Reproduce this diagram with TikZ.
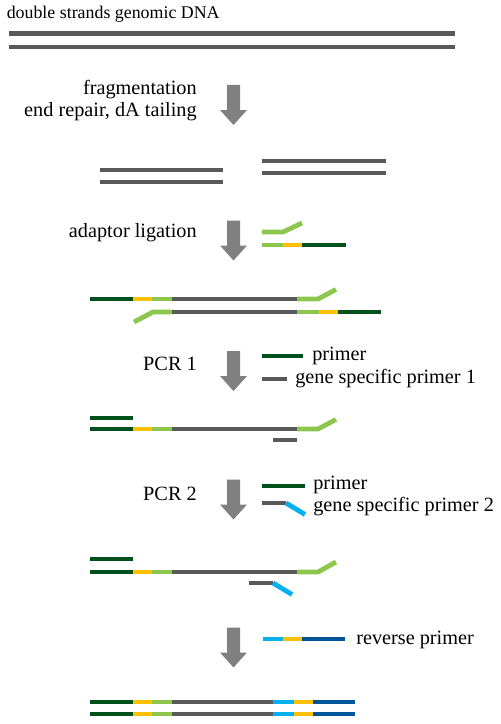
\documentclass[tikz,border=0pt]{standalone}
\usepackage{fontspec}
\setmainfont{Liberation Serif}
\newfontfamily\refserif{Liberation Serif}
\definecolor{dkgreen}{RGB}{0,80,30}
\definecolor{ltgreen}{RGB}{140,198,76}
\definecolor{ylw}{RGB}{255,192,0}
\definecolor{cyn}{RGB}{0,176,240}
\definecolor{dkblue}{RGB}{0,84,152}
\definecolor{strandgray}{RGB}{89,89,89}
\definecolor{arrowgray}{RGB}{128,128,128}
\tikzset{
  seg/.style={line width=3.6pt, line cap=butt, line join=miter},
  dg/.style={seg, draw=dkgreen},
  lg/.style={seg, draw=ltgreen},
  yl/.style={seg, draw=ylw},
  gr/.style={seg, draw=strandgray},
  cy/.style={seg, draw=cyn},
  bl/.style={seg, draw=dkblue},
  lbl/.style={inner sep=0pt, font=\refserif\fontsize{15.2pt}{18pt}\selectfont},
  toplbl/.style={inner sep=0pt, font=\refserif\fontsize{13.4pt}{16pt}\selectfont},
  bigarrow/.pic={\fill[arrowgray] (-6.5,0) -- (6.5,0) -- (6.5,25) -- (13.5,25) -- (0,40) -- (-13.5,25) -- (-6.5,25) -- cycle;}
}
\begin{document}
\begin{tikzpicture}[x=0.75pt,y=-0.75pt]
\useasboundingbox (0,0) rectangle (500,724);
% title
\node[toplbl, anchor=base west] (title) at (6.5,18.3) {double strands genomic DNA};
\draw[gr] (9,33.5) -- (454.5,33.5);
\draw[gr] (9,47) -- (454.5,47);
% step 1
\node[lbl, anchor=base east] (frag) at (197,94.3) {fragmentation};
\node[lbl, anchor=base east] (repair) at (197,116.5) {end repair, dA tailing};
\pic at (233.5,85) {bigarrow};
\draw[gr] (100,170) -- (223,170);
\draw[gr] (100,182) -- (223,182);
\draw[gr] (262,161) -- (386,161);
\draw[gr] (262,173) -- (386,173);
% step 2 adaptor ligation
\node[lbl, anchor=base east] (adapt) at (197,237.7) {adaptor ligation};
\pic at (233.5,220.5) {bigarrow};
\draw[lg] (262,232) -- (283,232) -- (302,223);
\draw[lg] (262,245) -- (283,245);
\draw[yl] (283,245) -- (302,245);
\draw[dg] (302,245) -- (346,245);
% ligated product
\draw[dg] (90,299) -- (133,299);
\draw[yl] (133,299) -- (152,299);
\draw[lg] (152,299) -- (172,299);
\draw[gr] (172,299) -- (297,299);
\draw[lg] (297,299) -- (318,299) -- (336,289.5);
\draw[lg] (134,322) -- (153,312) -- (172,312);
\draw[gr] (172,312) -- (297,312);
\draw[lg] (297,312) -- (319,312);
\draw[yl] (319,312) -- (338,312);
\draw[dg] (338,312) -- (381,312);
% PCR 1
\node[lbl, anchor=base east] (pcr1) at (197,370.5) {PCR 1};
\pic at (233.5,351) {bigarrow};
\draw[dg] (262,356) -- (303,356);
\node[lbl, anchor=base west] (primer1) at (312,360) {primer};
\draw[gr] (262,379) -- (287,379);
\node[lbl, anchor=base west] (gsp1) at (295,383.3) {gene specific primer 1};
% PCR1 product
\draw[dg] (90,418) -- (133,418);
\draw[dg] (90,429) -- (133,429);
\draw[yl] (133,429) -- (152,429);
\draw[lg] (152,429) -- (172,429);
\draw[gr] (172,429) -- (297,429);
\draw[lg] (297,429) -- (318,429) -- (336,419.5);
\draw[gr] (273,440) -- (297,440);
% PCR 2
\node[lbl, anchor=base east] (pcr2) at (197,500) {PCR 2};
\pic at (233.5,479.5) {bigarrow};
\draw[dg] (262,486) -- (305,486);
\node[lbl, anchor=base west] (primer2) at (313,489.3) {primer};
\draw[gr] (262,503) -- (286,503);
\draw[cy] (286,503) -- (305,514.5);
\node[lbl, anchor=base west] (gsp2) at (313,511.5) {gene specific primer 2};
% PCR2 product
\draw[dg] (90,559) -- (133,559);
\draw[dg] (90,572) -- (133,572);
\draw[yl] (133,572) -- (152,572);
\draw[lg] (152,572) -- (172,572);
\draw[gr] (172,572) -- (297,572);
\draw[lg] (297,572) -- (318,572) -- (336,562);
\draw[gr] (249,583) -- (273,583);
\draw[cy] (273,583) -- (292,594.5);
% reverse primer step
\pic at (233.5,627.5) {bigarrow};
\draw[cy] (263,639) -- (283,639);
\draw[yl] (283,639) -- (302,639);
\draw[bl] (302,639) -- (345,639);
\node[lbl, anchor=base west] (rev) at (356,644) {reverse primer};
% final product
\foreach \yy in {702,714} {
  \draw[dg] (90,\yy) -- (133,\yy);
  \draw[yl] (133,\yy) -- (152,\yy);
  \draw[lg] (152,\yy) -- (172,\yy);
  \draw[gr] (172,\yy) -- (273,\yy);
  \draw[cy] (273,\yy) -- (294,\yy);
  \draw[yl] (294,\yy) -- (313,\yy);
  \draw[bl] (313,\yy) -- (355,\yy);
}
\end{tikzpicture}
\end{document}
